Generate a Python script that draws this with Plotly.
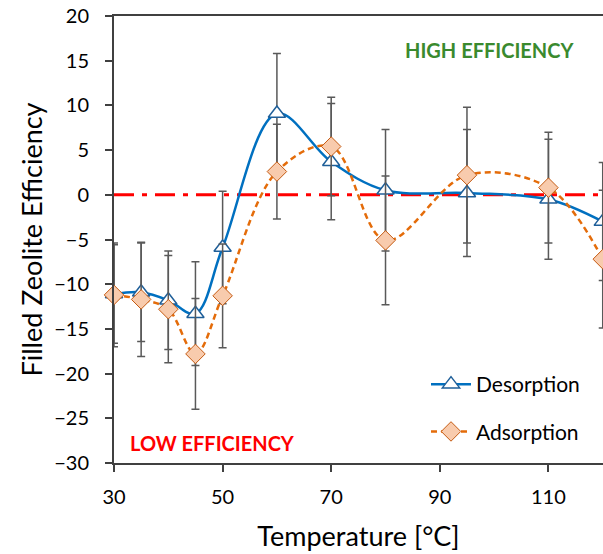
import plotly.graph_objects as go

temps = [30, 35, 40, 45, 50, 60, 70, 80, 95, 110, 120]
desorption = [-11.1, -10.9, -11.8, -13.3, -5.9, 9.1, 3.7, 0.5, 0.2, -0.5, -3.0]
desorption_err = [5.5, 5.5, 5.5, 5.8, 6.3, 6.7, 6.5, 6.8, 7.1, 6.7, 6.6]
adsorption = [-11.2, -11.7, -12.8, -17.8, -11.3, 2.6, 5.4, -5.1, 2.2, 0.8, -7.2]
adsorption_err = [5.8, 6.4, 6.0, 6.2, 5.8, 5.3, 5.5, 7.2, 7.6, 6.2, 7.7]
x_ticks = [30, 50, 70, 90, 110]
y_ticks = [-30, -25, -20, -15, -10, -5, 0, 5, 10, 15, 20]

FONT = "Lato"

des_marker = dict(symbol="triangle-up", size=15, color="white",
                  line=dict(color="#1F5F99", width=1.5))
ads_marker = dict(symbol="diamond", size=15, color="#F8CBAD",
                  line=dict(color="#C55A11", width=1))

fig = go.Figure()

# zero reference line
fig.add_shape(type="line", xref="paper", yref="y", x0=0, x1=1, y0=0, y1=0,
              line=dict(color="#FF0000", width=3, dash="20px,8px,5px,8px"), layer="below")

fig.add_trace(go.Scatter(
    x=temps, y=desorption, name="Desorption", mode="lines+markers",
    line=dict(color="#0070C0", width=2.5, shape="spline", smoothing=1.0),
    marker=des_marker,
    error_y=dict(type="data", array=desorption_err, visible=True,
                 color="#595959", thickness=1.5, width=4),
    cliponaxis=False, legendgroup="d",
))
fig.add_trace(go.Scatter(
    x=temps, y=adsorption, name="Adsorption", mode="lines+markers",
    line=dict(color="#E46C0A", width=2.5, shape="spline", smoothing=1.0, dash="6px,4px"),
    marker=ads_marker,
    error_y=dict(type="data", array=adsorption_err, visible=True,
                 color="#595959", thickness=1.5, width=4),
    cliponaxis=False, legendgroup="a",
))

fig.add_annotation(text="<b>HIGH EFFICIENCY</b>", xref="paper", yref="paper",
                   x=(490 - 114) / 489, y=(463 - 50) / 447, showarrow=False,
                   xanchor="center", yanchor="middle",
                   font=dict(family=FONT, size=20, color="#3A8A2E"))
fig.add_annotation(text="<b>LOW EFFICIENCY</b>", xref="paper", yref="paper",
                   x=(212 - 114) / 489, y=(463 - 443) / 447, showarrow=False,
                   xanchor="center", yanchor="middle",
                   font=dict(family=FONT, size=20, color="#FF0000"))

fig.update_layout(
    width=603, height=554,
    margin=dict(l=114, r=0, t=16, b=91),
    paper_bgcolor="white", plot_bgcolor="white",
    font=dict(family=FONT, size=20, color="black"),
    showlegend=True,
    legend=dict(x=(426 - 114) / 489, y=(463 - 364) / 447, xanchor="left", yanchor="top",
                bgcolor="rgba(0,0,0,0)", font=dict(family=FONT, size=21),
                tracegroupgap=17, traceorder="grouped", itemwidth=40),
    xaxis=dict(range=[30, 120.05], tickvals=x_ticks, showgrid=False, zeroline=False,
               showline=True, linecolor="#404040", linewidth=2, mirror=True,
               ticks="outside", ticklen=7, tickwidth=1.5, tickcolor="#404040",
               tickfont=dict(size=20), ticklabelstandoff=8,
               title=dict(text="Temperature [°C]", font=dict(size=27), standoff=20)),
    yaxis=dict(range=[-30, 20], tickvals=y_ticks, showgrid=False, zeroline=False,
               showline=True, linecolor="#404040", linewidth=2,
               ticks="outside", ticklen=7, tickwidth=1.5, tickcolor="#404040",
               tickfont=dict(size=20), ticklabelstandoff=12,
               title=dict(text="Filled Zeolite Efficiency", font=dict(size=27), standoff=4)),
)

fig.write_html("out.html")
